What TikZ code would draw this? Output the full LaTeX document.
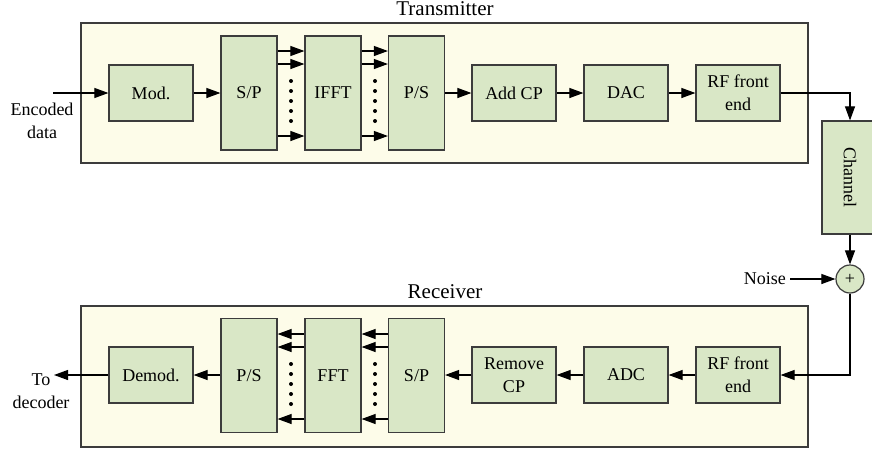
\documentclass[tikz,border=0pt]{standalone}
\usepackage{fontspec}
\setmainfont{Liberation Serif}
\usetikzlibrary{arrows.meta}
\definecolor{blockfill}{RGB}{217,231,198}
\definecolor{panelfill}{RGB}{253,252,233}
\definecolor{edgegray}{RGB}{60,60,60}
\begin{document}
\begin{tikzpicture}[x=1pt,y=-1pt,
  font=\rmfamily\fontsize{18}{23}\selectfont,
  blk/.style={draw=edgegray,line width=1.2pt,fill=blockfill,minimum width=84pt,minimum height=56pt,inner sep=1pt,align=center},
  tall/.style={blk,minimum width=56pt,minimum height=114pt},
  panel/.style={draw=edgegray,line width=1.2pt,fill=panelfill},
  arr/.style={line width=1.1pt,-{Triangle[length=14pt,width=10pt]}},
  ttl/.style={font=\rmfamily\fontsize{21}{25}\selectfont},
  lbl/.style={inner sep=0pt,align=center}]
\useasboundingbox (0,0) rectangle (872,453);
% panels
\draw[panel] (81,23) rectangle (808,163);
\draw[panel] (81,306) rectangle (808,447);
\node[ttl] (ttx) at (445,9) {Transmitter};
\node[ttl] (trx) at (445,292) {Receiver};
% transmitter blocks
\node[blk] (mod) at (151,93) {Mod.};
\node[tall] (sptx) at (249,93) {S/P};
\node[tall] (ifft) at (333,93) {IFFT};
\node[tall] (pstx) at (416.5,93) {P/S};
\node[blk] (addcp) at (514,93) {Add CP};
\node[blk] (dac) at (626,93) {DAC};
\node[blk] (rftx) at (738,93) {RF front\\end};
\node[blk,minimum width=56pt,minimum height=113pt] (ch) at (850,177.5) {\rotatebox{-90}{Channel}};
\node[draw=edgegray,line width=1.2pt,fill=blockfill,circle,minimum size=28pt,inner sep=0pt,font=\rmfamily\fontsize{18}{18}\selectfont] (sum) at (850,279) {+};
\node[lbl,anchor=east] (noise) at (786,279) {Noise};
% receiver blocks
\node[blk] (rfrx) at (738,375) {RF front\\end};
\node[blk] (adc) at (626,375) {ADC};
\node[blk] (rmcp) at (514,375) {Remove\\CP};
\node[tall] (sprx) at (416.5,375.5) {S/P};
\node[tall] (fft) at (333,375.5) {FFT};
\node[tall] (psrx) at (249,375.5) {P/S};
\node[blk] (demod) at (151,375) {Demod.};
% io labels
\node[lbl] (enc) at (42,121) {Encoded\\data};
\coordinate (encin) at (53,93);
\node[lbl] (todec) at (41,391) {To\\decoder};
\coordinate (decout) at (54,375);
% transmitter chain
\draw[arr] (encin) -- (mod.west);
\draw[arr] (mod) -- (sptx);
\foreach \yy in {51,64,136}{
  \draw[arr] (sptx.east |- 0,\yy) -- (ifft.west |- 0,\yy);
  \draw[arr] (ifft.east |- 0,\yy) -- (pstx.west |- 0,\yy);
}
\foreach \yy in {81,91,101,111,121}{
  \fill (291,\yy) circle (2);
  \fill (375,\yy) circle (2);
}
\draw[arr] (pstx.east |- mod) -- (addcp);
\draw[arr] (addcp) -- (dac);
\draw[arr] (dac) -- (rftx);
\draw[arr] (rftx.east) -| (ch.north);
\draw[arr] (ch.south) -- (sum.north);
\draw[arr] (noise.east) ++(4,0) -- (sum.west);
% receiver chain
\draw[arr] (sum.south) |- (rfrx.east);
\draw[arr] (rfrx) -- (adc);
\draw[arr] (adc) -- (rmcp);
\draw[arr] (rmcp) -- (sprx.east |- rmcp);
\foreach \yy in {334,347,419}{
  \draw[arr] (sprx.west |- 0,\yy) -- (fft.east |- 0,\yy);
  \draw[arr] (fft.west |- 0,\yy) -- (psrx.east |- 0,\yy);
}
\foreach \yy in {364,374,384,394,404}{
  \fill (291,\yy) circle (2);
  \fill (375,\yy) circle (2);
}
\draw[arr] (psrx.west |- demod) -- (demod.east);
\draw[arr] (demod.west) -- (decout);
\end{tikzpicture}
\end{document}
